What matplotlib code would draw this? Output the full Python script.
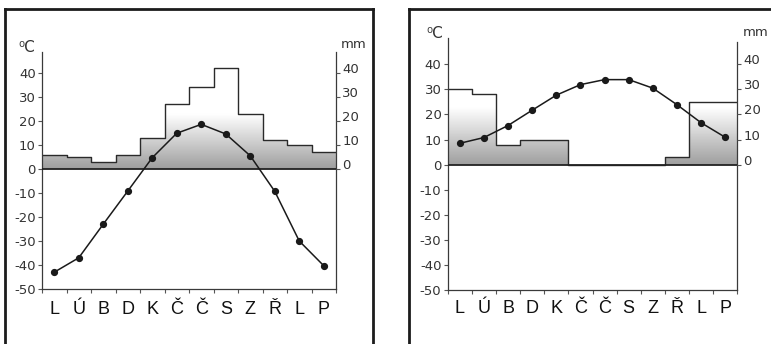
import numpy as np
import matplotlib
matplotlib.use('Agg')
import matplotlib.pyplot as plt
from matplotlib.lines import Line2D

plt.rcParams['font.family'] = ['DejaVu Sans']
plt.rcParams['axes.unicode_minus'] = False

months = ['L', 'Ú', 'B', 'D', 'K', 'Č', 'Č', 'S', 'Z', 'Ř', 'L', 'P']
precip_a = [6, 5, 3, 6, 13, 27, 34, 42, 23, 12, 10, 7]
temp_a = [-43, -37, -23, -9.2, 4.7, 14.9, 18.6, 14.6, 5.5, -9.3, -30, -40.3]
precip_b = [30, 28, 8, 10, 10, 0, 0, 0, 0, 3, 25, 25]
temp_b = [8.5, 10.8, 15.6, 21.7, 27.7, 31.9, 33.9, 33.9, 30.5, 23.9, 16.7, 10.9]
temp_ticks = [-50, -40, -30, -20, -10, 0, 10, 20, 30, 40]
precip_ticks = [0, 10, 20, 30, 40]

W, H = 771, 344
fig = plt.figure(figsize=(W / 100, H / 100), dpi=100)

DARK = '#222222'
TXT = '#333333'


def panel(x0, x1, ytop, ybot, ymax, rtop, precip, temp, label_base):
    ax = fig.add_axes([x0 / W, 1 - ybot / H, (x1 - x0) / W, (ybot - ytop) / H])
    edges = np.arange(len(months) + 1)
    pv = np.append(precip, precip[-1])
    poly = ax.fill_between(edges, 0, pv, step='post', facecolor='none',
                           edgecolor='none')
    ys = np.linspace(0, ymax, 256)
    g = np.clip(0.62 + 0.38 * ys / 23.0, 0, 1).reshape(-1, 1)
    im = ax.imshow(g, extent=[0, 12, 0, ymax], origin='lower', aspect='auto',
                   cmap='gray', vmin=0, vmax=1, zorder=1, interpolation='bilinear')
    im.set_clip_path(poly.get_paths()[0], transform=ax.transData)
    ax.step(edges, pv, where='post', color='#2a2a2a', lw=1.0, zorder=2)
    ax.axhline(0, color=DARK, lw=1.3, zorder=3)
    ax.plot(edges[:-1] + 0.5, temp, '-o', color='#1a1a1a', lw=1.1, ms=4.2,
            zorder=4, clip_on=False)
    ax.set_xlim(0, 12)
    ax.set_ylim(-50, ymax)

    ax.spines['top'].set_visible(False)
    for s in ['left', 'bottom', 'right']:
        ax.spines[s].set_color('#3a3a3a')
        ax.spines[s].set_linewidth(0.9)
    ax.spines['right'].set_bounds(-50, rtop)

    ax.set_yticks(temp_ticks)
    ax.tick_params(axis='y', direction='out', length=3, width=0.8,
                   color='#555555', labelcolor=TXT, labelsize=9.5, pad=1.5)
    ax.set_xticks(edges)
    ax.set_xticklabels([''] * len(edges))
    ax.tick_params(axis='x', direction='out', length=3, width=0.8,
                   color='#555555')

    yb = (ybot - label_base) / (ybot - ytop)
    for i, m in enumerate(months):
        ax.text(i + 0.5, yb, m, transform=ax.get_xaxis_transform(),
                ha='center', va='baseline', fontsize=13, color='#111111',
                family=['Liberation Sans', 'DejaVu Sans'])

    ax2 = ax.twinx()
    ax2.set_ylim(-50, ymax)
    ax2.set_yticks(precip_ticks)
    for s in ['top', 'left', 'bottom', 'right']:
        ax2.spines[s].set_visible(False)
    ax2.tick_params(axis='y', direction='out', length=3, width=0.8,
                    color='#555555', labelcolor=TXT, labelsize=9.5, pad=1.5)
    for lbl in ax2.get_yticklabels():
        lbl.set_va('baseline')
    return ax


panel(42, 336, 52, 289, 48.75, 48.75, precip_a, temp_a, 314)
panel(447.7, 737.3, 38, 290, 50.5, 49.0, precip_b, temp_b, 313)

# unit labels
fig.text(18 / W, 1 - 47 / H, '⁰C', ha='left', va='center', fontsize=11, color=TXT)
fig.text(341 / W, 1 - 45 / H, 'mm', ha='left', va='center', fontsize=9.5, color=TXT)
fig.text(426 / W, 1 - 34 / H, '⁰C', ha='left', va='center', fontsize=11, color=TXT)
fig.text(743 / W, 1 - 32 / H, 'mm', ha='left', va='center', fontsize=9.5, color=TXT)

# frames
fc = '#1c1c1c'
flw = 2.0
def fl(xs, ys):
    fig.add_artist(Line2D([x / W for x in xs], [1 - y / H for y in ys],
                          color=fc, lw=flw, solid_capstyle='projecting'))

fl([5, 5], [9, 350])
fl([5, 373], [9, 9])
fl([373, 373], [9, 350])
fl([409, 409], [9, 350])
fl([409, 775], [9, 9])

fig.savefig('out.png', dpi=100)
